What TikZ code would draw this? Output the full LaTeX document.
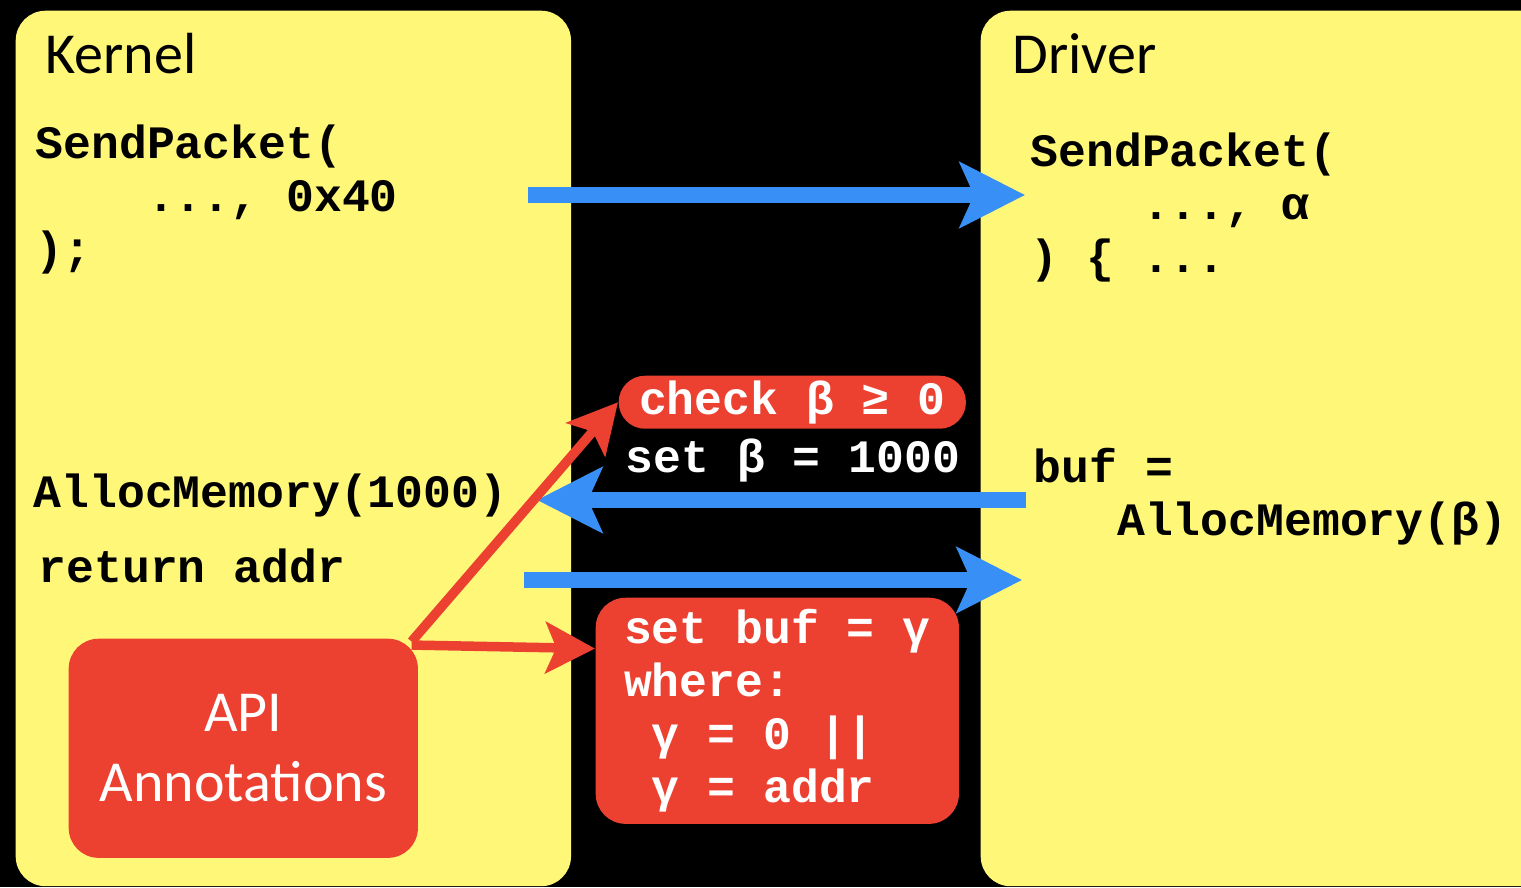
\documentclass[tikz,border=0pt]{standalone}
\usepackage{fontspec}
\setmainfont{Carlito}
\setmonofont{Liberation Mono}
\usetikzlibrary{positioning,arrows.meta,calc}
\definecolor{PanelYellow}{RGB}{255,247,120}
\definecolor{NoteRed}{RGB}{236,64,48}
\definecolor{CallBlue}{RGB}{56,144,246}

\begin{document}
\begin{tikzpicture}[
    x=0.01cm, y=-0.01cm,
    panel/.style={rectangle, rounded corners=8.5pt, fill=PanelYellow, anchor=north west, inner sep=0pt},
    note/.style={rectangle, rounded corners=8.5pt, fill=NoteRed, anchor=north west, inner sep=0pt,
        text=white, font=\ttfamily\bfseries\fontsize{13.2}{15.1}\selectfont, align=left},
    code/.style={font=\ttfamily\bfseries\fontsize{13.2}{15.1}\selectfont, align=left, anchor=north west, inner sep=0pt},
    heading/.style={font=\fontsize{16.5}{20}\selectfont, anchor=base west, inner sep=0pt},
    call/.style={draw=CallBlue, line width=4.5pt, -{Stealth[length=18.5pt, width=18.5pt, inset=4pt]}},
    link/.style={draw=NoteRed, line width=2.7pt, -{Stealth[length=14pt, width=14.5pt, inset=3pt]}}
]
\useasboundingbox (0,0) rectangle (1521,887);
\fill[black] (0,0) rectangle (1521,887);

% the two sides
\node[panel, minimum width=5.55cm, minimum height=8.75cm] (kernel) at (15,10) {};
\node[panel, minimum width=5.8cm, minimum height=8.75cm] (driver) at (980,10) {};
\node[heading] (kerneltitle) at (45,73) {Kernel};
\node[heading] (drivertitle) at (1012,73) {Driver};

% kernel code
\node[code] (ksend) at (35,124) {SendPacket(\\\phantom{....}..., 0x40\\);};
\node[code, anchor=base west] (kalloc) at (33,507) {AllocMemory(1000)};
\node[code, anchor=base west] (kret) at (38,582) {return addr};

% driver code
\node[code] (dsend) at (1030,132) {SendPacket(\\\phantom{....}..., α\\) \{ ...};
\node[code] (dbuf) at (1033,447) {buf =\\\phantom{...}AllocMemory(β)};

% annotations
\node[note, rounded corners=7.5pt, anchor=north west, minimum width=3.47cm, minimum height=0.53cm, align=center] (check) at (618,375) {check β ≥ 0};
\node[code, anchor=base west, text=white] (setbeta) at (625,472) {set β = 1000};
\node[note, minimum width=3.63cm, minimum height=2.26cm] (setbuf) at (595,597)
    {set buf = γ\\where:\\\phantom{.}γ = 0 ||\\\phantom{.}γ = addr};
\node[note, minimum width=3.49cm, minimum height=2.19cm, align=center,
    font=\fontsize{16.5}{20}\selectfont] (api) at (68,638) {API\\Annotations};

% calls
\coordinate (k1) at (528,195);
\coordinate (d1) at (1025,195);
\coordinate (d2) at (1026,500);
\coordinate (k2) at (537,500);
\coordinate (k3) at (524,580);
\coordinate (d3) at (1022,580);
\draw[call] (k1) -- (d1);
\draw[call] (d2) -- (k2);
\draw[call] (k3) -- (d3);

\draw[link] ([xshift=-2pt,yshift=-1pt]api.north east) -- (check.west);
\draw[link] ([xshift=-2pt,yshift=-2pt]api.north east) -- ([yshift=-3pt]setbuf.west |- api.north east);
\end{tikzpicture}
\end{document}
